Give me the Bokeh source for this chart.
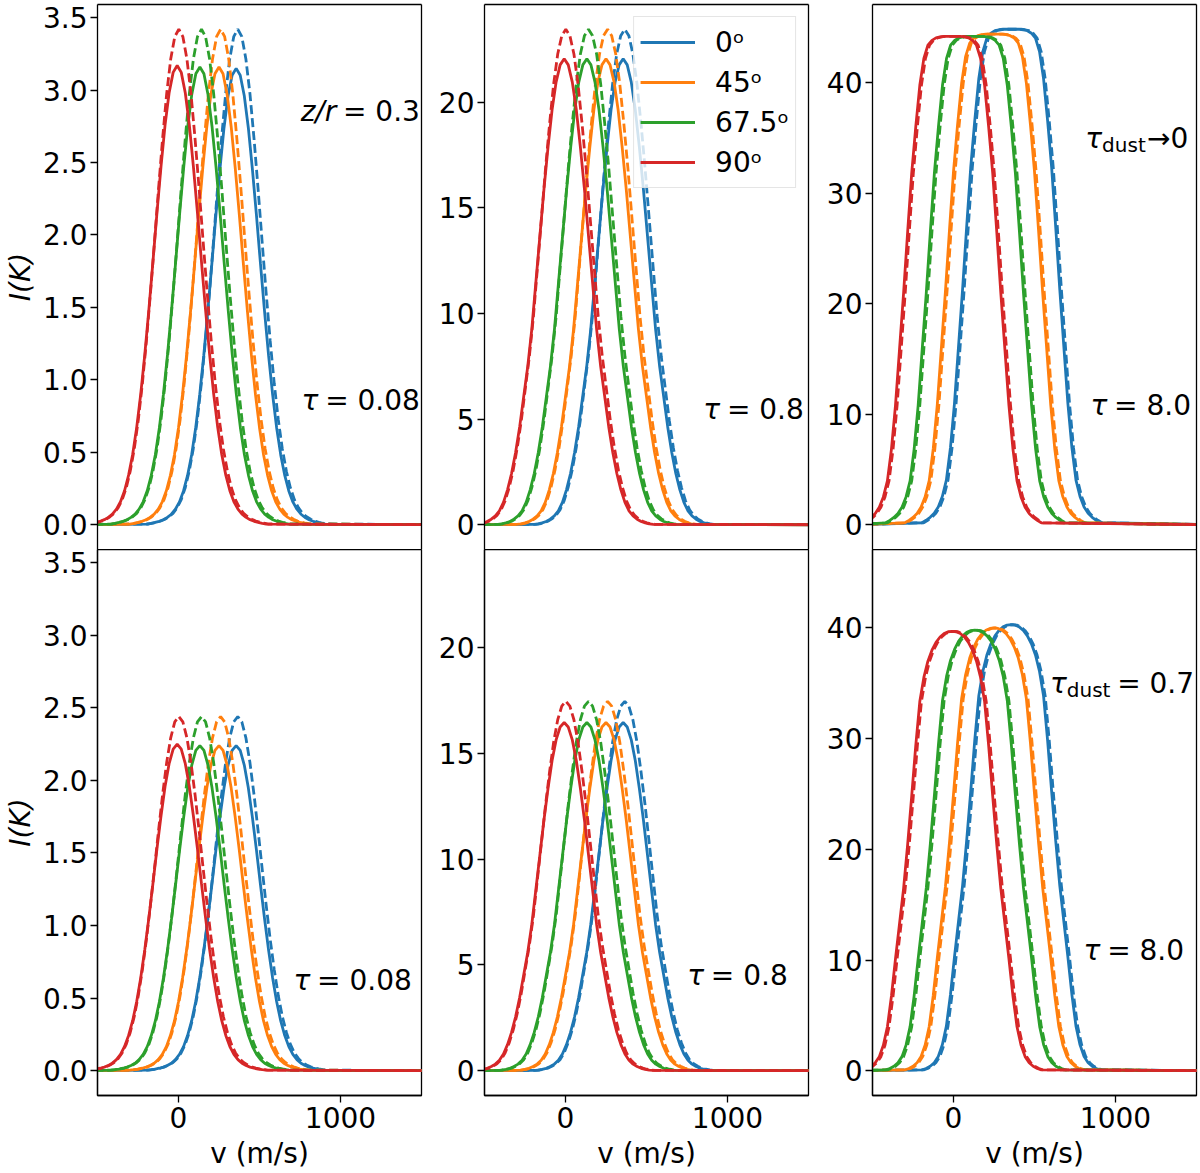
from bokeh.plotting import figure
from bokeh.models import Range1d, FixedTicker, PrintfTickFormatter, Label, LinearAxis
from bokeh.layouts import gridplot
from bokeh.embed import file_html
from bokeh.resources import INLINE

# legend labels and colours, in plotting order
angle_labels = ["0ᵒ", "45ᵒ", "67.5ᵒ", "90ᵒ"]
colors = ["#1f77b4", "#ff7f0e", "#2ca02c", "#d62728"]

centre_solid = [356, 250, 132, -8]
centre_dashed = [366, 260, 142, 2]

# distance from the line centre (m/s) at which the profile shapes were read
offset_half = [0, 25, 50, 75, 100, 125, 150, 175, 200, 225, 250, 275,
               300, 325, 350, 375, 400, 425, 450, 475, 500, 525, 550]

# profile shapes as a fraction of the peak (symmetric about the centre)
shape_tau008 = [1.000, 0.985, 0.940, 0.870, 0.780, 0.679, 0.572, 0.468, 0.371, 0.285, 0.212, 0.153,
                0.108, 0.074, 0.050, 0.034, 0.023, 0.016, 0.011, 0.0075, 0.005, 0.003, 0.0015]
shape_tau08 = [1.000, 0.987, 0.950, 0.890, 0.810, 0.720, 0.620, 0.520, 0.420, 0.340, 0.275, 0.210,
               0.155, 0.110, 0.075, 0.048, 0.030, 0.019, 0.012, 0.007, 0.004, 0.002, 0.001]
shape_tau8_clear = [1.000, 1.000, 1.000, 0.999, 0.997, 0.992, 0.982, 0.955, 0.900, 0.815, 0.720, 0.600,
                    0.475, 0.360, 0.245, 0.155, 0.090, 0.057, 0.036, 0.023, 0.015, 0.009, 0.004]
shape_tau8_dust = [1.000, 0.999, 0.995, 0.987, 0.975, 0.957, 0.932, 0.895, 0.840, 0.740, 0.625, 0.515,
                   0.415, 0.335, 0.255, 0.170, 0.100, 0.058, 0.032, 0.018, 0.010, 0.005, 0.002]

# peak intensities I(K), same order as angle_labels
peak_solid_tl = [3.15, 3.16, 3.16, 3.17]
peak_dashed_tl = [3.42, 3.42, 3.42, 3.42]
peak_solid_tm = [22.05, 22.05, 22.05, 22.05]
peak_dashed_tm = [23.45, 23.45, 23.45, 23.45]
peak_solid_tr = [44.85, 44.4, 44.2, 44.2]
peak_dashed_tr = [44.85, 44.4, 44.2, 44.2]
peak_solid_bl = [2.24, 2.24, 2.24, 2.25]
peak_dashed_bl = [2.44, 2.44, 2.44, 2.44]
peak_solid_bm = [16.45, 16.45, 16.45, 16.45]
peak_dashed_bm = [17.45, 17.45, 17.45, 17.45]
peak_solid_br = [40.3, 40.0, 39.8, 39.7]
peak_dashed_br = [40.3, 40.0, 39.8, 39.7]

ticks_left = [0.0, 0.5, 1.0, 1.5, 2.0, 2.5, 3.0, 3.5]
ticks_mid = [0, 5, 10, 15, 20]
ticks_right = [0, 10, 20, 30, 40]
ticks_v = [0, 1000]

FONT = "DejaVu Sans"
FS = 28

# rough advance widths of DejaVu Sans (em), for laying out the mixed-style labels
ADV = {"0": .636, "1": .636, "2": .636, "3": .636, "4": .636, "5": .636, "6": .636,
       "7": .636, "8": .636, "9": .636, ".": .318, " ": .318, "=": .838, "→": .838,
       "d": .635, "u": .634, "s": .521, "t": .392, "z": .525, "/": .337, "r": .411, "τ": .6}


def text_width(s, size):
    return sum(ADV.get(ch, 0.6) for ch in s) * size


def add_math(p, x, y, parts):
    # parts are (text, style, size_px, drop_px, gap_before_em), laid out right to left
    shift = 0
    for text, style, size, drop, gap in reversed(parts):
        p.add_layout(Label(x=x, y=y, x_offset=-shift, y_offset=-drop, text=text,
                           text_align="right", text_baseline="middle",
                           text_font=FONT, text_font_size=f"{size}px",
                           text_font_style=style, text_color="black"))
        shift += text_width(text, size) + gap * FS


def profile(centre, peak, shape):
    offs = [-o for o in offset_half[:0:-1]] + offset_half
    frac = shape[:0:-1] + shape
    xs = [-600] + [centre + o for o in offs] + [1600]
    ys = [0] + [peak * f for f in frac] + [0]
    return xs, ys


def bare_axis():
    return LinearAxis(ticker=FixedTicker(ticks=[]), axis_line_color="black", axis_line_width=1.3,
                      major_tick_line_color=None, minor_tick_line_color=None,
                      major_label_standoff=0, major_tick_out=0, major_tick_in=0)


x_range = Range1d(-500, 1500)
y_left = Range1d(-0.171, 3.591)
y_mid = Range1d(-1.17, 24.62)
y_right = Range1d(-2.24, 47.09)

widths = [435, 388, 377]
border_left = [97, 49, 49]
border_right = [14, 15, 4]


def make_panel(col, bottom, shape, peaks_s, peaks_d, y_range, ticks, fmt, legend=False):
    p = figure(width=widths[col], height=624 if bottom else 549,
               x_range=x_range, y_range=y_range,
               output_backend="svg", toolbar_location=None,
               x_axis_location="below" if bottom else None,
               min_border_left=border_left[col], min_border_right=border_right[col],
               min_border_top=0 if bottom else 4, min_border_bottom=78 if bottom else 0)
    p.grid.visible = False
    p.background_fill_color = "white"
    p.border_fill_color = "white"
    if bottom:
        p.outline_line_color = "black"
        p.outline_line_width = 1.3
    else:
        # top row: spines drawn by axes, the shared bottom edge comes from the lower panel
        p.outline_line_color = None
        p.add_layout(bare_axis(), "above")
        p.add_layout(bare_axis(), "right")

    for i in range(4):
        xs, ys = profile(centre_solid[i], peaks_s[i], shape)
        if legend:
            p.line(xs, ys, color=colors[i], line_width=2.8, legend_label=angle_labels[i])
        else:
            p.line(xs, ys, color=colors[i], line_width=2.8)
        xs, ys = profile(centre_dashed[i], peaks_d[i], shape)
        p.line(xs, ys, color=colors[i], line_width=2.8, line_dash="9 4")

    for ax in p.xaxis + p.yaxis:
        ax.axis_line_color = "black"
        ax.axis_line_width = 1.3
        ax.major_tick_line_color = "black"
        ax.major_tick_line_width = 1.3
        ax.major_tick_in = 0
        ax.major_tick_out = 7
        ax.minor_tick_line_color = None
        ax.major_label_text_font = FONT
        ax.major_label_text_font_size = f"{FS}px"
        ax.major_label_text_color = "black"
        ax.major_label_standoff = 3
        ax.axis_label_text_font = FONT
        ax.axis_label_text_font_size = f"{FS}px"
        ax.axis_label_text_color = "black"

    p.yaxis[0].ticker = FixedTicker(ticks=ticks)
    if fmt:
        p.yaxis[0].formatter = PrintfTickFormatter(format=fmt)
    if col == 0:
        p.yaxis[0].axis_label = "I(K)"
        p.yaxis[0].axis_label_text_font_style = "italic"
        p.yaxis[0].axis_label_standoff = 3
    if bottom:
        p.xaxis.ticker = FixedTicker(ticks=ticks_v)
        p.xaxis.axis_label = "v (m/s)"
        p.xaxis.axis_label_text_font_style = "normal"
        p.xaxis.major_label_standoff = 4
        p.xaxis.axis_label_standoff = 6

    if legend:
        lg = p.legend[0]
        lg.location = "top_right"
        lg.margin = 12
        lg.padding = 6
        lg.spacing = 2
        lg.glyph_width = 55
        lg.glyph_height = 38
        lg.label_height = 38
        lg.label_standoff = 20
        lg.label_text_font = FONT
        lg.label_text_font_size = f"{FS}px"
        lg.label_text_color = "black"
        lg.border_line_color = "#cccccc"
        lg.border_line_width = 1.3
        lg.background_fill_alpha = 0.8
    return p


tl = make_panel(0, False, shape_tau008, peak_solid_tl, peak_dashed_tl, y_left, ticks_left, "%.1f")
tm = make_panel(1, False, shape_tau08, peak_solid_tm, peak_dashed_tm, y_mid, ticks_mid, None, legend=True)
tr = make_panel(2, False, shape_tau8_clear, peak_solid_tr, peak_dashed_tr, y_right, ticks_right, None)
bl = make_panel(0, True, shape_tau008, peak_solid_bl, peak_dashed_bl, y_left, ticks_left, "%.1f")
bm = make_panel(1, True, shape_tau08, peak_solid_bm, peak_dashed_bm, y_mid, ticks_mid, None)
br = make_panel(2, True, shape_tau8_dust, peak_solid_br, peak_dashed_br, y_right, ticks_right, None)

add_math(tl, 1490, 2.85, [("z/r", "italic", FS, 0, 0), ("= 0.3", "normal", FS, 0, 0.24)])
add_math(tl, 1490, 0.857, [("τ", "italic", FS, 0, 0), ("= 0.08", "normal", FS, 0, 0.24)])
add_math(tm, 1471, 5.47, [("τ", "italic", FS, 0, 0), ("= 0.8", "normal", FS, 0, 0.24)])
add_math(tr, 1450, 34.98, [("τ", "italic", FS, 0, 0), ("dust", "normal", 20, 7, 0),
                           ("→0", "normal", FS, 0, 0.05)])
add_math(tr, 1466, 10.77, [("τ", "italic", FS, 0, 0), ("= 8.0", "normal", FS, 0, 0.24)])
add_math(bl, 1440, 0.619, [("τ", "italic", FS, 0, 0), ("= 0.08", "normal", FS, 0, 0.24)])
add_math(bm, 1372, 4.5, [("τ", "italic", FS, 0, 0), ("= 0.8", "normal", FS, 0, 0.24)])
add_math(br, 1485, 35.0, [("τ", "italic", FS, 0, 0), ("dust", "normal", 20, 7, 0),
                          ("= 0.7", "normal", FS, 0, 0.24)])
add_math(br, 1423, 10.84, [("τ", "italic", FS, 0, 0), ("= 8.0", "normal", FS, 0, 0.24)])

grid = gridplot([[tl, tm, tr], [bl, bm, br]], toolbar_location=None)

open("out.html", "w").write(file_html(grid, INLINE))
